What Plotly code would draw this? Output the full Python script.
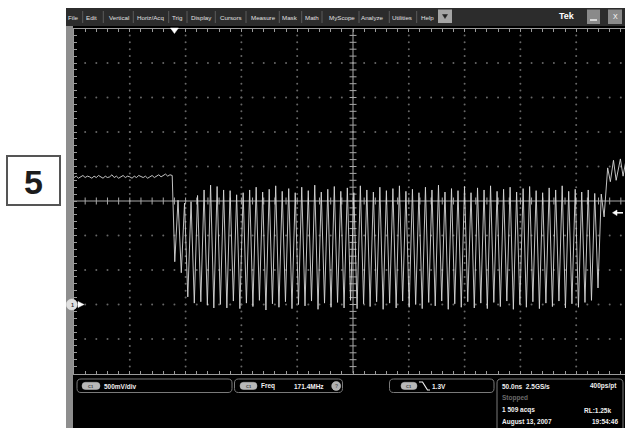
import plotly.graph_objects as go

W, H = 625, 428

time_per_div_ns = 50.0
volts_per_div = 0.5
freq_mhz = 171.4
trigger_level_v = 1.3
trigger_time_ns = -160.0

flat_start_ns = -250.0
flat_step_ns = 2.0
flat_v = [1.84, 1.86, 1.83, 1.85, 1.87, 1.84, 1.86, 1.85, 1.83, 1.86, 1.84, 1.87,
          1.85, 1.83, 1.86, 1.84, 1.85, 1.88, 1.84, 1.86, 1.83, 1.85, 1.87, 1.84,
          1.86, 1.85, 1.83, 1.86, 1.84, 1.87, 1.85, 1.84, 1.86, 1.83, 1.85, 1.87,
          1.84, 1.86, 1.88, 1.85, 1.87, 1.89, 1.86, 1.88, 1.87]

first_trough_ns = -159.7
trough_v = [0.62, 0.46, 0.11, 0.02, 0.04, -0.01, -0.05, 0.00, -0.05, 0.05, -0.06, 0.02,
            -0.03, 0.06, -0.08, 0.01, -0.04, 0.04, -0.06, 0.00, -0.02, 0.05, -0.07, 0.02,
            -0.04, 0.03, -0.05, 0.06, -0.06, 0.01, -0.03, 0.04, -0.07, 0.02, -0.05, 0.05,
            -0.04, 0.00, -0.06, 0.03, -0.02, 0.05, -0.07, 0.01, -0.04, 0.04, -0.05, 0.02,
            -0.06, 0.03, -0.03, 0.05, -0.07, 0.00, -0.04, 0.04, -0.06, 0.02, -0.03, 0.05,
            -0.05, 0.01, -0.04, 0.03, 0.06, 0.24]
peak_v = [1.51, 1.47, 1.49, 1.58, 1.66, 1.73, 1.71, 1.66, 1.65, 1.59, 1.62, 1.66,
          1.70, 1.63, 1.67, 1.72, 1.64, 1.68, 1.62, 1.70, 1.65, 1.73, 1.63, 1.67,
          1.71, 1.64, 1.69, 1.62, 1.72, 1.66, 1.63, 1.70, 1.65, 1.68, 1.72, 1.64,
          1.67, 1.62, 1.70, 1.66, 1.73, 1.63, 1.68, 1.65, 1.71, 1.62, 1.69, 1.66,
          1.72, 1.64, 1.67, 1.70, 1.63, 1.68, 1.71, 1.65, 1.62, 1.69, 1.66, 1.72,
          1.64, 1.67, 1.63, 1.66, 1.61, 1.60]

tail_t_ns = [225.0, 228.2, 230.6, 233.4, 235.8, 239.6, 242.0, 244.6]
tail_v = [1.27, 1.98, 1.78, 2.09, 1.80, 2.11, 1.86, 2.09]

menu_labels = ["File", "Edit", "Vertical", "Horiz/Acq", "Trig", "Display", "Cursors",
               "Measure", "Mask", "Math", "MyScope", "Analyze", "Utilities", "Help"]

readout_scale = "500mV/div"
readout_freq_label = "Freq"
readout_freq_value = "171.4MHz"
readout_trig = "1.3V"
readout_horiz = "50.0ns  2.5GS/s"
readout_res = "400ps/pt"
readout_state = "Stopped"
readout_acqs = "1 509 acqs"
readout_rl = "RL:1.25k"
readout_date = "August 13, 2007"
readout_time = "19:54:46"
figure_label = "5"

# ---------------- waveform assembly ----------------
period_ns = 1000.0 / freq_mhz
wave_t = [flat_start_ns + i * flat_step_ns for i in range(len(flat_v))]
wave_v = list(flat_v)
for k, (tr, pk) in enumerate(zip(trough_v, peak_v)):
    wave_t.append(first_trough_ns + k * period_ns)
    wave_v.append(tr)
    wave_t.append(first_trough_ns + (k + 0.5) * period_ns)
    wave_v.append(pk)
wave_t += tail_t_ns
wave_v += tail_v

# ---------------- geometry helpers ----------------
X_LEFT, X_RIGHT_PX = 74.0, 625.0
Y_TOP, Y_BOT = 28.5, 373.5
x_min = -5 * time_per_div_ns
x_max = x_min + 10 * time_per_div_ns * (X_RIGHT_PX - X_LEFT) / 558.0
gnd_div = -3
y_min = (-5 - gnd_div) * volts_per_div
y_max = (5 - gnd_div) * volts_per_div
y_center = (y_min + y_max) / 2


def px(x, y):
    return x / W, 1 - y / H


def rrect(x0, y0, x1, y1, r):
    pts = [("M", [(x0 + r, y0)]), ("L", [(x1 - r, y0)]), ("Q", [(x1, y0), (x1, y0 + r)]),
           ("L", [(x1, y1 - r)]), ("Q", [(x1, y1), (x1 - r, y1)]), ("L", [(x0 + r, y1)]),
           ("Q", [(x0, y1), (x0, y1 - r)]), ("L", [(x0, y0 + r)]), ("Q", [(x0, y0), (x0 + r, y0)])]
    s = ""
    for cmd, coords in pts:
        s += cmd + " " + " ".join("%.5f,%.5f" % px(a, b) for a, b in coords) + " "
    return s + "Z"


def poly(points, close=True):
    s = "M " + " L ".join("%.5f,%.5f" % px(a, b) for a, b in points)
    return s + (" Z" if close else "")


shapes = []


def rect(x0, y0, x1, y1, fill, line=None, lw=0, layer="below"):
    a = px(x0, y0)
    b = px(x1, y1)
    shapes.append(dict(type="rect", xref="paper", yref="paper", x0=a[0], x1=b[0],
                       y0=b[1], y1=a[1], fillcolor=fill,
                       line=dict(color=line or fill, width=lw), layer=layer))


def pathshape(path, fill=None, line="#7a7a7a", lw=1, layer="above"):
    d = dict(type="path", xref="paper", yref="paper", path=path,
             line=dict(color=line, width=lw), layer=layer)
    if fill:
        d["fillcolor"] = fill
    shapes.append(d)


def seg(x0, y0, x1, y1, color, lw=1, layer="above"):
    a = px(x0, y0)
    b = px(x1, y1)
    shapes.append(dict(type="line", xref="paper", yref="paper", x0=a[0], y0=a[1],
                       x1=b[0], y1=b[1], line=dict(color=color, width=lw), layer=layer))


# scope window
rect(66, 8, 625, 428, "#000000")
rect(66, 8, 625, 26, "#2c2c2c")
rect(66, 26, 73, 428, "#8e8e8e")

# menu separators
for sx in [82.7, 103.3, 133.3, 168.7, 187, 215.3, 246, 279.3, 301.7, 322, 359, 389.3, 416.7]:
    seg(sx, 11, sx, 23, "#5a5a5a", 1, "above")
# dropdown button
rect(438, 9.5, 452, 23, "#a5a5a5", layer="above")
pathshape(poly([(442.5, 14.5), (447.5, 14.5), (445, 18.5)]), fill="#222222", line="#222222", lw=0.5)
# minimize / close
rect(587, 9.5, 600, 24, "#8a8a8a", layer="above")
seg(590, 20, 597, 20, "#f0f0f0", 1.5)
rect(608, 9.5, 622, 24, "#8a8a8a", layer="above")

# figure label box
rect(7, 156, 60, 205, "#ffffff", line="#555555", lw=2, layer="above")

# bottom readout boxes
pathshape(rrect(77, 379, 232, 392.5, 4))
pathshape(rrect(234.5, 379, 342.5, 392.5, 4))
pathshape(rrect(389.5, 379, 494, 392.5, 4))
pathshape(rrect(497, 379, 623, 440, 4))
for x0, x1 in [(82, 100), (240, 257), (401, 417)]:
    pathshape(rrect(x0, 382.3, x1, 389.5, 3.5), fill="#b8b8b8", line="#b8b8b8", lw=0.5)
# freq info circle
c0, c1 = px(331.7, 381.5), px(340.7, 390.5)
shapes.append(dict(type="circle", xref="paper", yref="paper", x0=c0[0], x1=c1[0],
                   y0=c1[1], y1=c0[1], fillcolor="#b0b0b0", line=dict(color="#d0d0d0", width=0.5)))
# falling-edge trigger symbol
pathshape(poly([(419, 382), (422.5, 382), (427.5, 390), (430, 390)], close=False),
          line="#f0f0f0", lw=1.2)

# trigger position marker (top)
tx = X_LEFT + (trigger_time_ns - x_min) / (x_max - x_min) * (X_RIGHT_PX - X_LEFT)
pathshape(poly([(tx - 4, 28), (tx + 4, 28), (tx, 33.5)]), fill="#ffffff", line="#ffffff", lw=0.5)
# ground marker
gy = Y_BOT - (0 - y_min) / (y_max - y_min) * (Y_BOT - Y_TOP)
g0, g1 = px(66.3, gy - 5.5), px(77.3, gy + 5.5)
shapes.append(dict(type="circle", xref="paper", yref="paper", x0=g0[0], x1=g1[0],
                   y0=g1[1], y1=g0[1], fillcolor="#e0e0e0", line=dict(color="#e0e0e0", width=0.5)))
pathshape(poly([(78, gy - 3), (84, gy), (78, gy + 3)]), fill="#ffffff", line="#ffffff", lw=0.5)
# trigger level marker (right)
ty = Y_BOT - (trigger_level_v - y_min) / (y_max - y_min) * (Y_BOT - Y_TOP) - 2
pathshape(poly([(612.5, ty), (617, ty - 2.8), (617, ty + 2.8)]), fill="#ffffff", line="#ffffff", lw=0.5)
seg(617, ty, 623, ty, "#ffffff", 1.5)

# ---------------- annotations ----------------
ann = []
FONT = "Liberation Sans, Arial, sans-serif"


def text(x, y, s, size=6, color="#f0f0f0", anchor="left", bold=False):
    a = px(x, y)
    ann.append(dict(x=a[0], y=a[1], xref="paper", yref="paper", text=("<b>%s</b>" % s) if bold else s,
                    showarrow=False, xanchor=anchor, yanchor="middle", borderpad=0,
                    font=dict(family=FONT, size=size, color=color)))


menu_centers = [73, 91.3, 119, 150.7, 177.5, 201.2, 231, 263, 290.3, 311.7, 342, 372.7, 402.2, 427]
for lab, cx in zip(menu_labels, menu_centers):
    text(cx, 17, lab, 6.2, "#e0e0e0", "center")
text(567, 16.5, "Tek", 9, "#ffffff", "center", True)
text(615, 16.5, "X", 7, "#ffffff", "center")

text(33.5, 182, figure_label, 34, "#1c1c1c", "center", True)

text(91, 386, "C1", 4, "#333333", "center", True)
text(248.5, 386, "C1", 4, "#333333", "center", True)
text(409, 386, "C1", 4, "#333333", "center", True)
RS = 6.5
text(102.5, 386, readout_scale, RS, bold=True)
text(259.5, 386, readout_freq_label, RS, bold=True)
text(292.5, 386, readout_freq_value, RS, bold=True)
text(336.2, 386, "?", 5, "#555555", "center", True)
text(431, 386, readout_trig, RS, bold=True)
text(500.5, 386, readout_horiz, RS, bold=True)
text(617.5, 386, readout_res, RS, anchor="right", bold=True)
text(500.5, 398.3, readout_state, RS, "#6a6a6a", bold=True)
text(500.5, 410, readout_acqs, RS, bold=True)
text(612, 410, readout_rl, RS, anchor="right", bold=True)
text(500.5, 421.7, readout_date, RS, bold=True)
text(618.5, 421.7, readout_time, RS, anchor="right", bold=True)
text(72, gy, "1", 5.5, "#333333", "center", True)

# ---------------- traces ----------------
traces = []
# graticule dots
dx, dy = [], []
for i in range(-4, 5):
    if i == 0:
        continue
    xd = i * time_per_div_ns
    for j in range(1, 50):
        dx.append(xd)
        dy.append(y_min + j * volts_per_div / 5)
for i in range(-4, 5):
    if i == 0:
        continue
    yd = y_center + i * volts_per_div
    for j in range(1, 50):
        dx.append(x_min + j * time_per_div_ns / 5)
        dy.append(yd)
traces.append(go.Scatter(x=dx, y=dy, mode="markers", hoverinfo="skip",
                         marker=dict(size=2, color="#666666", line=dict(width=0))))
# center cross
traces.append(go.Scatter(x=[x_min, x_max], y=[y_center, y_center], mode="lines",
                         line=dict(color="#a8a8a8", width=1), hoverinfo="skip"))
traces.append(go.Scatter(x=[0, 0], y=[y_min, y_max], mode="lines",
                         line=dict(color="#a8a8a8", width=1), hoverinfo="skip"))
cx_t = [x_min + j * time_per_div_ns / 5 for j in range(1, 50)]
traces.append(go.Scatter(x=cx_t, y=[y_center] * len(cx_t), mode="markers", hoverinfo="skip",
                         marker=dict(symbol="line-ns", size=5, line=dict(color="#a8a8a8", width=1))))
cy_t = [y_min + j * volts_per_div / 5 for j in range(1, 50)]
traces.append(go.Scatter(x=[0] * len(cy_t), y=cy_t, mode="markers", hoverinfo="skip",
                         marker=dict(symbol="line-ew", size=5, line=dict(color="#a8a8a8", width=1))))
# waveform
traces.append(go.Scatter(x=wave_t, y=wave_v, mode="lines", name="C1",
                         line=dict(color="#d8d8d8", width=0.9)))

fig = go.Figure(traces)
fig.update_layout(
    width=W, height=H, margin=dict(l=0, r=0, t=0, b=0),
    paper_bgcolor="#ffffff", plot_bgcolor="#000000", showlegend=False,
    shapes=shapes, annotations=ann,
    xaxis=dict(range=[x_min, x_max], domain=[X_LEFT / W, 1], showline=True, linecolor="#9a9a9a",
               linewidth=1, mirror="ticks", ticks="inside", ticklen=3, tickcolor="#9a9a9a",
               tickwidth=1, dtick=time_per_div_ns / 5, tick0=0, showticklabels=False,
               showgrid=False, zeroline=False, fixedrange=True),
    yaxis=dict(range=[y_min, y_max], domain=[1 - Y_BOT / H, 1 - Y_TOP / H], showline=True,
               linecolor="#9a9a9a", linewidth=1, ticks="inside", ticklen=3, tickcolor="#9a9a9a",
               tickwidth=1, dtick=volts_per_div / 5, tick0=0, showticklabels=False,
               showgrid=False, zeroline=False, fixedrange=True),
)
fig.write_html("out.html", config={"displayModeBar": False},
               post_script="document.body.style.margin='0';document.body.style.overflow='hidden';")
